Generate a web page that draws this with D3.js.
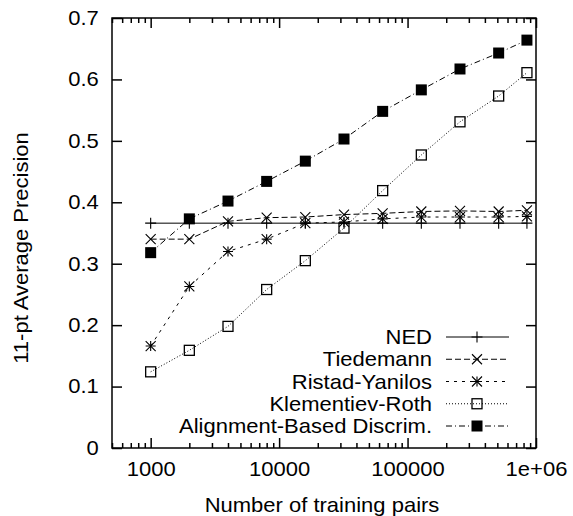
<!DOCTYPE html>
<html>
<head>
<meta charset="utf-8">
<script src="https://cdn.jsdelivr.net/npm/d3@7"></script>
<style>
  body { margin: 0; background: #fff; }
  text { font-family: "Liberation Sans", Arial, Helvetica, sans-serif; fill: #000; }
</style>
</head>
<body>
<div id="chart"></div>
<script>
// data
var trainingPairs = [1000, 2000, 4000, 8000, 16000, 32000, 64000, 128000, 256000, 512000, 850000];
var ned            = [0.366, 0.366, 0.366, 0.366, 0.366, 0.366, 0.366, 0.366, 0.366, 0.366, 0.366];
var tiedemann      = [0.340, 0.340, 0.369, 0.375, 0.376, 0.380, 0.382, 0.385, 0.386, 0.385, 0.387];
var ristadYanilos  = [0.166, 0.263, 0.320, 0.340, 0.366, 0.368, 0.373, 0.376, 0.376, 0.376, 0.377];
var klementievRoth = [0.124, 0.159, 0.198, 0.258, 0.305, 0.358, 0.419, 0.477, 0.531, 0.573, 0.611];
var alignmentBased = [0.318, 0.373, 0.402, 0.434, 0.467, 0.503, 0.548, 0.583, 0.617, 0.643, 0.664];
var seriesNames = ["NED", "Tiedemann", "Ristad-Yanilos", "Klementiev-Roth", "Alignment-Based Discrim."];
var xTicks = [1000, 10000, 100000, 1000000];
var xTickLabels = ["1000", "10000", "100000", "1e+06"];
var yTicks = [0, 0.1, 0.2, 0.3, 0.4, 0.5, 0.6, 0.7];
var yTickLabels = ["0", "0.1", "0.2", "0.3", "0.4", "0.5", "0.6", "0.7"];

var W = 573, H = 516;
var pLeft = 112, pRight = 536, pTop = 18, pBottom = 448;
var fs = 20, sx = 1.1;   // font size, stretch of the type along its line

var x = d3.scaleLog().domain([500, 1000000]).range([pLeft, pRight]);
var y = d3.scaleLinear().domain([0, 0.7]).range([pBottom, pTop]);

var svg = d3.select("#chart").append("svg")
  .attr("width", W).attr("height", H);

// minor x ticks 2..9 of every decade
var minorX = [];
[100, 1000, 10000, 100000].forEach(function(d){
  for (var k = 2; k <= 9; k++) if (d * k >= 500 && d * k < 1000000) minorX.push(d * k);
});

function noText(g){ g.selectAll("text").remove(); g.select(".domain").remove(); }

// bottom / top major + minor
var xb = svg.append("g").attr("transform", "translate(0," + pBottom + ")")
  .call(d3.axisBottom(x).tickValues(xTicks).tickSize(-10).tickPadding(14)
    .tickFormat(function(d, i){ return xTickLabels[i]; }));
xb.select(".domain").remove();
xb.selectAll("text").style("font-size", fs + "px")
  .attr("transform", "scale(" + sx + ",1)");
svg.append("g").attr("transform", "translate(0," + pBottom + ")")
  .call(d3.axisBottom(x).tickValues(minorX).tickSize(-5)).call(noText);
svg.append("g").attr("transform", "translate(0," + pTop + ")")
  .call(d3.axisTop(x).tickValues(xTicks).tickSize(-10)).call(noText);
svg.append("g").attr("transform", "translate(0," + pTop + ")")
  .call(d3.axisTop(x).tickValues(minorX).tickSize(-5)).call(noText);

// left / right
var yl = svg.append("g").attr("transform", "translate(" + pLeft + ",0)")
  .call(d3.axisLeft(y).tickValues(yTicks).tickSize(-10).tickPadding(12)
    .tickFormat(function(d, i){ return yTickLabels[i]; }));
yl.select(".domain").remove();
yl.selectAll("text").style("font-size", fs + "px")
  .attr("transform", "scale(" + sx + ",1)");
svg.append("g").attr("transform", "translate(" + pRight + ",0)")
  .call(d3.axisRight(y).tickValues(yTicks).tickSize(-10)).call(noText);

svg.selectAll(".tick line").attr("stroke", "#000").attr("stroke-width", 1.5);

// frame
svg.append("rect")
  .attr("x", pLeft).attr("y", pTop)
  .attr("width", pRight - pLeft).attr("height", pBottom - pTop)
  .attr("fill", "none").attr("stroke", "#000").attr("stroke-width", 1.5);

// axis titles
svg.append("g").attr("transform", "translate(" + ((pLeft + pRight) / 2 - 2) + ",512) scale(" + sx + ",1)")
  .append("text").attr("text-anchor", "middle").style("font-size", fs + "px")
  .text("Number of training pairs");
svg.append("g").attr("transform", "translate(28,248) rotate(-90) scale(" + sx + ",1)")
  .append("text").attr("text-anchor", "middle").style("font-size", fs + "px")
  .text("11-pt Average Precision");

// marker shapes
function marker(g, kind, s){
  var h = s / 2;
  if (kind === "plus" || kind === "star") {
    g.append("path").attr("d", "M" + (-h) + ",0H" + h + "M0," + (-h) + "V" + h);
  }
  if (kind === "cross" || kind === "star") {
    g.append("path").attr("d", "M" + (-h) + "," + (-h) + "L" + h + "," + h + "M" + (-h) + "," + h + "L" + h + "," + (-h));
  }
  if (kind === "box") {
    g.append("rect").attr("x", -h).attr("y", -h).attr("width", s).attr("height", s)
      .attr("fill", "none").attr("stroke", "#000").attr("stroke-width", 1.3);
  }
  if (kind === "fbox") {
    g.append("rect").attr("x", -h).attr("y", -h).attr("width", s).attr("height", s)
      .attr("fill", "#000").attr("stroke", "none");
  }
  g.selectAll("path").attr("fill", "none").attr("stroke", "#000").attr("stroke-width", 1.1);
}

var seriesValues = [ned, tiedemann, ristadYanilos, klementievRoth, alignmentBased];
var markerKinds = ["plus", "cross", "star", "box", "fbox"];
var markerSizes = [11, 10, 10, 10, 11];
var dashes = [null, "6,3", "3,5", "1,2", "6,3,1,3"];

var line = d3.line()
  .x(function(d){ return x(d[0]); })
  .y(function(d){ return y(d[1]); });

seriesValues.forEach(function(vals, i){
  var pts = trainingPairs.map(function(t, j){ return [t, vals[j]]; });
  svg.append("path").datum(pts)
    .attr("d", line)
    .attr("fill", "none").attr("stroke", "#000").attr("stroke-width", 1)
    .attr("stroke-dasharray", dashes[i]);
  svg.append("g").selectAll("g").data(pts).enter().append("g")
    .attr("transform", function(d){ return "translate(" + x(d[0]) + "," + y(d[1]) + ")"; })
    .each(function(){ marker(d3.select(this), markerKinds[i], markerSizes[i]); });
});

// legend
var legY = d3.scalePoint().domain(seriesNames).range([337, 426]);
seriesNames.forEach(function(name, i){
  var cy = legY(name);
  svg.append("g").attr("transform", "translate(432," + cy + ") scale(" + sx + ",1)")
    .append("text").attr("text-anchor", "end").attr("dy", "0.36em")
    .style("font-size", fs + "px").text(name);
  svg.append("line").attr("x1", 446).attr("x2", 509).attr("y1", cy).attr("y2", cy)
    .attr("stroke", "#000").attr("stroke-width", 1)
    .attr("stroke-dasharray", dashes[i]);
  var g = svg.append("g").attr("transform", "translate(477," + cy + ")");
  marker(g, markerKinds[i], markerSizes[i]);
});
</script>
</body>
</html>
